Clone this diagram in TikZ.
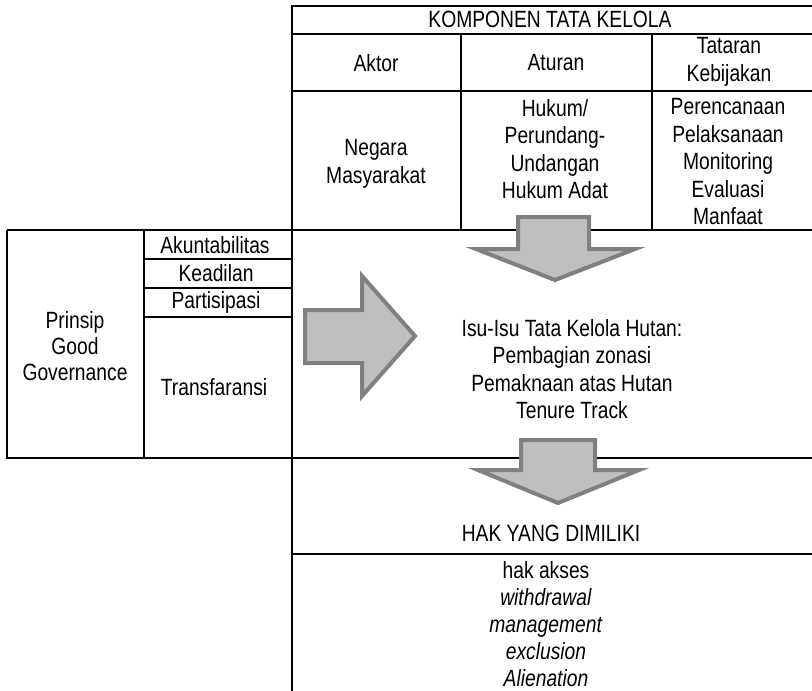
\documentclass[tikz,border=0pt]{standalone}
\usepackage{fontspec}
\setmainfont[FakeStretch=0.82]{Liberation Sans}
\usetikzlibrary{positioning}

\tikzset{
    teks/.style={anchor=center, align=center, inner sep=0pt, font=\fontsize{23.5}{27.5}\selectfont},
    panah/.style={fill=gray!50, draw=gray, line width=4pt, line join=miter}
}

\begin{document}
\begin{tikzpicture}[x=1pt, y=-1pt, line width=2pt]
            \useasboundingbox (0,0) rectangle (812,691);
            \draw (812,6) -- (292,6) -- (292,691);
            \draw (292,34) -- (812,34);
            \draw (292,91) -- (812,91);
            \draw (7,230) -- (812,230);
            \draw (461,34) -- (461,230);
            \draw (652,34) -- (652,230);
            \draw (7,230) -- (7,458) -- (812,458);
            \draw (144,230) -- (144,458);
            \draw (144,259) -- (292,259);
            \draw (144,288) -- (292,288);
            \draw (144,317) -- (292,317);
            \draw (292,554) -- (812,554);
            \node[teks] (komp) at (550,19) {KOMPONEN TATA KELOLA};
            \node[teks] (aktor) at (376,63) {Aktor};
            \node[teks] (aturan) at (556,63) {Aturan};
            \node[teks] (tataran) at (729,62) {Tataran\\Kebijakan};
            \node[teks] (aktorisi) at (376,164) {Negara\\Masyarakat};
            \node[teks] (aturanisi) at (555,149) {Hukum/\\Perundang-\\Undangan\\Hukum Adat};
            \node[teks] (tataranisi) at (728,162) {Perencanaan\\Pelaksanaan\\Monitoring\\Evaluasi\\Manfaat};
            \node[teks, font=\fontsize{23.5}{26}\selectfont] (prinsip) at (75,346) {Prinsip\\Good\\Governance};
            \node[teks] (akun) at (215,245) {Akuntabilitas};
            \node[teks] (adil) at (216,273) {Keadilan};
            \node[teks] (partisi) at (216,302) {Partisipasi};
            \node[teks] (transf) at (214,387) {Transfaransi};
            \node[teks] (isu) at (572,369)
                {Isu-Isu Tata Kelola Hutan:\\Pembagian zonasi\\Pemaknaan atas Hutan\\Tenure Track};
            \node[teks] (hak) at (551,533) {HAK YANG DIMILIKI};
            \node[teks, font=\fontsize{23.5}{27}\selectfont] (hakisi) at (546,624)
                {hak akses\\\textit{withdrawal}\\\textit{management}\\\textit{exclusion}\\\textit{Alienation}};
            \draw[panah] (305,310) -- (362,310) -- (362,276) -- (415,336) -- (362,396) -- (362,363) -- (305,363) -- cycle;
            \draw[panah] (518,217) -- (589,217) -- (589,249) -- (635,249) -- (555,280) -- (476,249) -- (518,249) -- cycle;
            \draw[panah] (521,440) -- (595,440) -- (595,470) -- (639,470) -- (558,503) -- (478,470) -- (521,470) -- cycle;
\end{tikzpicture}
\end{document}
